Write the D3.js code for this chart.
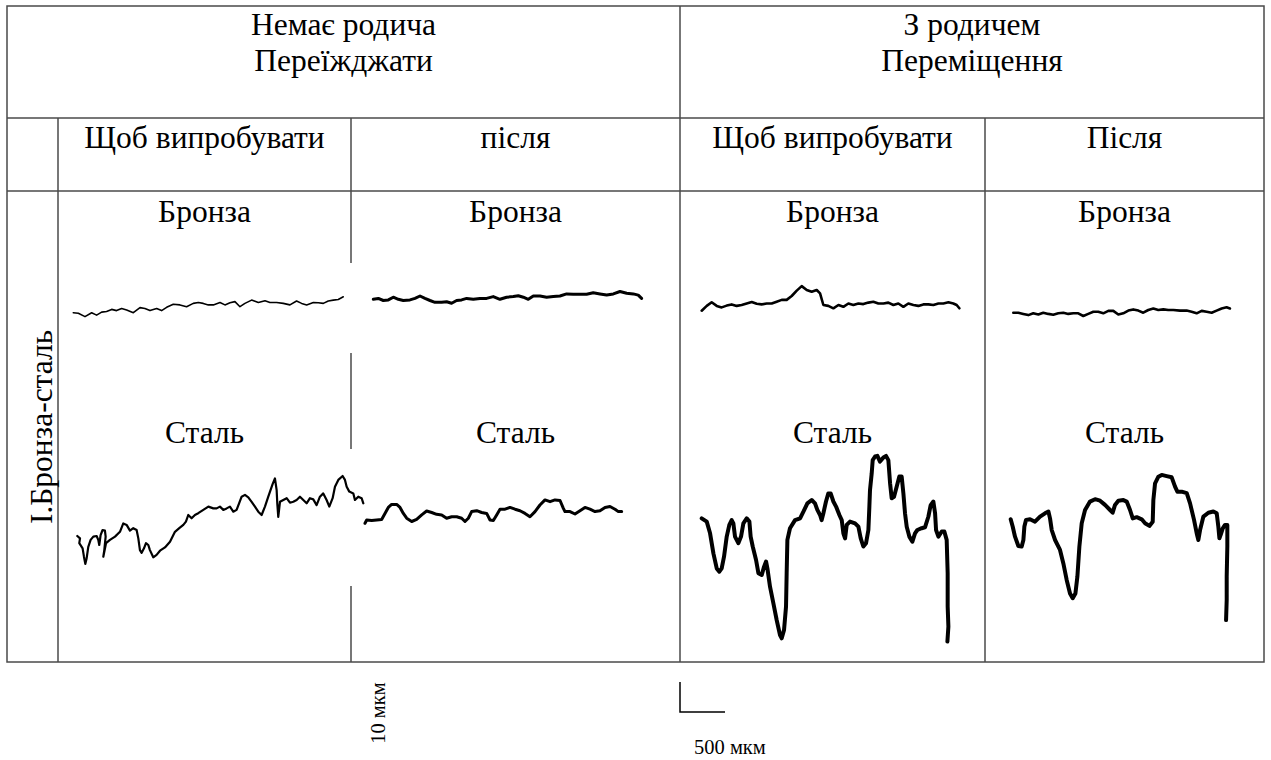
<!DOCTYPE html>
<html>
<head>
<meta charset="utf-8">
<script src="https://cdn.jsdelivr.net/npm/d3@7"></script>
<style>
  html, body { margin: 0; padding: 0; background: #fff; }
  svg { display: block; }
  text { font-family: "Liberation Serif", "DejaVu Serif", serif; fill: #000; }
</style>
</head>
<body>
<svg id="chart" width="1271" height="760"></svg>
<script>
// ---------- DATA (profilograms: [position along trace, µm ; height, µm]) ----------
const headerGroups = ["Немає родича\nПереїжджати", "З родичем\nПереміщення"];
const subHeaders = ["Щоб випробувати", "після", "Щоб випробувати", "Після"];
const rowLabel = "I.Бронза-сталь";
const materials = ["Бронза", "Сталь"];
const scaleLabels = ["10 мкм", "500 мкм"];
const scaleValues = [10, 500]; // µm vertical, µm horizontal

const bronzeNoParentBefore = [[0,0],[56,-0.2],[130,-1.3],[204,0],[259,-0.8],[315,0.2],[370,0.4],[426,1.1],[481,0.7],[537,1.4],[593,0.9],[667,0],[741,1.7],[796,1.4],[852,0.7],[926,1.4],[981,0.7],[1037,1.8],[1111,2.8],[1185,2.6],[1259,2.0],[1333,3.1],[1389,3.4],[1444,3.1],[1500,2.6],[1556,2.6],[1630,3.4],[1685,2.6],[1741,3.3],[1796,3.7],[1852,2.0],[1907,3.1],[1981,4.2],[2056,3.4],[2130,4.0],[2185,3.4],[2259,3.4],[2333,3.1],[2407,2.6],[2481,3.9],[2537,3.1],[2593,2.6],[2667,3.4],[2722,3.3],[2778,3.1],[2833,3.9],[2889,4.2],[2944,4.4],[3000,5.3]];
const bronzeNoParentAfter = [[0,0],[56,0.3],[111,-0.4],[167,-0.2],[222,0.7],[278,0],[333,-0.4],[407,-0.2],[463,0.3],[519,1.1],[574,0.3],[630,-0.4],[685,-1.0],[759,-1.0],[815,-0.8],[870,-1.3],[926,-0.4],[981,-0.2],[1037,0.3],[1111,0],[1185,0.3],[1259,0.3],[1333,0.9],[1407,0],[1481,0.7],[1556,0.9],[1611,1.2],[1667,0.7],[1722,0],[1778,1.1],[1852,1.1],[1926,0.7],[2000,0.9],[2074,1.1],[2148,1.8],[2222,1.7],[2296,1.7],[2370,1.7],[2444,2.2],[2519,1.8],[2593,1.4],[2667,1.8],[2741,2.6],[2815,2.0],[2889,1.8],[2944,1.4],[2981,0.3]];
const bronzeParentBefore = [[0,0],[56,1.6],[111,2.8],[167,1.6],[222,1.1],[278,1.7],[333,2.1],[389,1.6],[444,1.9],[500,2.4],[556,2.9],[611,2.3],[667,2.1],[722,2.4],[778,2.4],[833,3.0],[889,3.6],[944,3.6],[1000,4.9],[1056,6.7],[1111,8.2],[1167,6.9],[1222,6.3],[1278,6.9],[1315,5.8],[1352,1.9],[1407,1.6],[1463,0.8],[1519,1.9],[1574,1.3],[1630,2.4],[1685,1.9],[1741,2.4],[1796,2.2],[1852,2.7],[1907,3.0],[1963,2.4],[2019,2.4],[2074,2.7],[2130,1.9],[2185,2.4],[2241,1.3],[2296,2.4],[2352,1.9],[2407,1.6],[2463,2.1],[2519,2.1],[2574,1.9],[2630,2.4],[2685,2.4],[2741,2.8],[2796,2.4],[2833,1.9],[2863,0.8]];
const bronzeParentAfter = [[0,0],[56,0],[111,-0.4],[167,-0.8],[222,-0.2],[278,-0.6],[333,0],[389,-0.4],[444,-0.7],[500,-0.2],[556,0],[611,-0.4],[667,-0.2],[722,-0.2],[778,-1.1],[833,-0.4],[889,0.3],[944,0.3],[1000,-0.2],[1056,0.6],[1111,0.6],[1167,-0.6],[1222,-0.2],[1278,0.7],[1333,1.1],[1389,0.7],[1444,0],[1500,0.9],[1556,1.4],[1611,0.9],[1667,1.1],[1722,0.9],[1778,0.9],[1852,0.7],[1926,0.7],[1981,0.3],[2037,-0.2],[2093,0.6],[2148,0.3],[2204,0],[2259,0.7],[2315,1.4],[2370,1.8],[2407,1.4]];
const steelNoParentBefore = [[0,0],[30,-0.8],[22,-2.4],[59,-4.1],[74,-6.9],[89,-9.3],[104,-7.4],[122,-3.6],[148,-1.3],[178,-0.2],[215,0],[233,-1.3],[244,-3.0],[259,0.3],[281,2.0],[307,1.8],[315,-0.2],[300,-4.7],[289,-6.9],[319,-2.4],[363,-1.3],[419,-0.2],[474,1.4],[511,4.2],[548,3.7],[585,1.8],[622,2.6],[659,2.0],[678,-0.8],[696,-4.7],[715,-5.6],[741,-4.1],[763,-2.4],[789,-3.0],[807,-4.7],[844,-7.1],[881,-6.3],[919,-4.9],[974,-3.8],[1030,-1.9],[1085,1.4],[1133,2.6],[1178,3.7],[1207,4.8],[1233,7.0],[1270,5.9],[1307,7.0],[1344,7.6],[1400,8.7],[1456,9.8],[1511,9.2],[1548,9.2],[1585,9.8],[1622,8.7],[1659,9.2],[1696,9.8],[1733,8.1],[1770,8.7],[1826,13.1],[1863,13.7],[1900,12.9],[1937,11.4],[1974,9.8],[2011,8.1],[2048,7.0],[2085,9.8],[2122,13.1],[2170,17.3],[2196,19.2],[2215,15.3],[2222,10.9],[2233,6.4],[2252,11.4],[2289,12.0],[2326,12.6],[2363,11.1],[2400,11.4],[2437,12.0],[2474,13.1],[2511,12.0],[2548,10.9],[2585,12.6],[2622,12.2],[2659,10.3],[2696,13.1],[2733,14.2],[2770,12.0],[2800,9.8],[2837,12.6],[2863,16.4],[2900,18.7],[2948,20.0],[2974,18.7],[2993,16.4],[3022,14.8],[3067,14.2],[3085,12.0],[3122,13.1],[3159,12.6],[3178,10.9]];
const steelNoParentAfter = [[0,0],[19,1.1],[74,0.9],[130,1.1],[185,1.3],[222,3.3],[259,5.3],[296,6.3],[352,6.3],[389,5.3],[426,3.3],[463,1.7],[519,0.6],[574,1.3],[630,2.8],[685,4.1],[741,3.6],[796,3.0],[852,2.8],[907,1.7],[963,2.2],[1019,2.2],[1074,1.7],[1111,0.6],[1148,1.7],[1185,3.9],[1241,4.2],[1296,3.6],[1352,3.3],[1389,1.1],[1426,0.9],[1463,2.8],[1500,4.7],[1556,4.7],[1611,5.3],[1667,4.7],[1722,4.2],[1778,3.3],[1833,2.2],[1889,3.9],[1944,6.1],[2000,7.8],[2056,7.2],[2111,7.8],[2167,7.6],[2204,5.0],[2222,3.9],[2278,3.9],[2333,3.1],[2389,4.2],[2444,5.3],[2500,4.7],[2556,3.9],[2611,4.2],[2667,5.3],[2722,5.6],[2778,4.7],[2815,3.9],[2852,3.9]];
const steelParentBefore = [[0,0],[56,-1.1],[93,-5.0],[130,-11.7],[167,-16.7],[196,-17.8],[222,-16.7],[248,-12.8],[278,-6.1],[307,-2.2],[333,-0.6],[352,-1.7],[370,-6.1],[407,-8.3],[437,-6.1],[463,-1.7],[500,0],[530,-1.1],[544,-6.1],[567,-9.4],[604,-13.9],[630,-18.3],[667,-18.9],[693,-16.1],[715,-14.4],[730,-16.7],[759,-22.8],[796,-28.3],[833,-33.9],[870,-38.9],[889,-40.0],[915,-37.2],[937,-29.4],[944,-18.3],[952,-7.2],[981,-3.3],[1037,-0.6],[1093,0],[1130,2.2],[1174,5.0],[1222,6.1],[1259,5.0],[1285,2.8],[1315,1.1],[1333,-0.6],[1352,1.7],[1381,5.6],[1407,8.3],[1433,8.3],[1463,5.6],[1493,3.9],[1530,1.1],[1556,-0.6],[1574,-5.0],[1593,-6.7],[1611,-2.2],[1648,-1.1],[1704,-1.7],[1741,-2.8],[1767,-6.7],[1796,-9.4],[1826,-8.3],[1852,-3.9],[1863,3.9],[1870,9.4],[1889,15.0],[1900,19.4],[1926,20.6],[1952,20.8],[1981,18.9],[2019,20.3],[2048,20.8],[2074,19.4],[2093,11.7],[2111,6.7],[2137,7.2],[2167,10.6],[2196,13.9],[2222,13.9],[2241,8.3],[2259,1.7],[2278,-2.8],[2307,-6.1],[2341,-7.8],[2370,-5.0],[2396,-3.9],[2444,-3.3],[2481,-3.0],[2519,0.6],[2544,4.4],[2574,5.6],[2593,1.7],[2604,-3.9],[2630,-6.1],[2667,-4.4],[2696,-4.4],[2722,-7.2],[2733,-18.3],[2733,-29.4],[2741,-36.1],[2730,-41.1]];
const steelParentAfter = [[0,0],[22,-2.4],[48,-5.8],[85,-8.9],[122,-9.1],[141,-6.9],[152,-2.4],[170,-0.2],[215,0],[270,-0.8],[326,0.9],[381,2.0],[419,2.6],[437,0.3],[456,-3.6],[493,-6.9],[548,-10.2],[585,-14.7],[622,-20.2],[659,-24.7],[689,-26.3],[719,-24.7],[741,-19.1],[763,-9.1],[789,-1.3],[826,3.1],[881,5.9],[937,6.7],[993,6.2],[1048,4.8],[1104,3.1],[1133,2.2],[1159,4.8],[1196,6.2],[1252,6.4],[1289,5.9],[1326,3.1],[1356,0.3],[1400,0.7],[1456,0],[1493,-1.3],[1541,-2.2],[1578,-0.8],[1585,6.4],[1604,12.0],[1641,14.2],[1678,14.8],[1733,14.4],[1789,14.0],[1826,10.9],[1852,9.2],[1900,9.2],[1956,8.7],[1993,5.3],[2037,-0.2],[2067,-4.7],[2085,-6.9],[2104,-3.6],[2141,0.9],[2196,2.2],[2252,2.6],[2289,2.0],[2307,-2.4],[2319,-6.3],[2333,-5.2],[2356,-3.0],[2381,-1.9],[2407,-1.9],[2407,-9.1],[2400,-19.1],[2400,-26.9],[2393,-33.6]];

// ---------- LAYOUT ----------
const svg = d3.select("#chart");
const lineColor = "#4a4a4a";
const T = { left: 7, right: 1264, top: 6, bottom: 662, headBottom: 118, subBottom: 191 };
const colX = [58, 351, 680, 985];
const pxPerUmX = 45 / 500;   // 500 µm -> 45 px
const pxPerUmY = 30 / 10;    // 10 µm -> 30 px

const g = svg.append("g");
function hline(x1, x2, y) { g.append("line").attr("x1", x1).attr("x2", x2).attr("y1", y).attr("y2", y).attr("stroke", lineColor).attr("stroke-width", 1.5); }
function vline(x, y1, y2) { g.append("line").attr("x1", x).attr("x2", x).attr("y1", y1).attr("y2", y2).attr("stroke", lineColor).attr("stroke-width", 1.5); }

// outer frame
g.append("rect").attr("x", T.left).attr("y", T.top).attr("width", T.right - T.left).attr("height", T.bottom - T.top)
  .attr("fill", "none").attr("stroke", lineColor).attr("stroke-width", 1.5);
hline(T.left, T.right, T.headBottom);
hline(T.left, T.right, T.subBottom);
vline(colX[0], T.headBottom, T.bottom);
vline(colX[1], T.headBottom, 263);
vline(colX[1], 353, 449);
vline(colX[1], 586, T.bottom);
vline(colX[2], T.top, T.bottom);
vline(colX[3], T.headBottom, T.bottom);

const fs = 31.5;
// header groups
const groupCenters = [(T.left + colX[2]) / 2, (colX[2] + T.right) / 2];
headerGroups.forEach((txt, i) => {
  txt.split("\n").forEach((line, j) => {
    svg.append("text").attr("x", groupCenters[i]).attr("y", 35 + j * 36)
      .attr("text-anchor", "middle").attr("font-size", fs).text(line);
  });
});
// sub headers
const colBounds = [colX[0], colX[1], colX[2], colX[3], T.right];
const colCenters = d3.range(4).map(i => (colBounds[i] + colBounds[i + 1]) / 2);
subHeaders.forEach((txt, i) => {
  svg.append("text").attr("x", colCenters[i]).attr("y", 148).attr("text-anchor", "middle").attr("font-size", fs).text(txt);
});
// material labels
colCenters.forEach(cx => {
  svg.append("text").attr("x", cx).attr("y", 222).attr("text-anchor", "middle").attr("font-size", fs).text(materials[0]);
  svg.append("text").attr("x", cx).attr("y", 443).attr("text-anchor", "middle").attr("font-size", fs).text(materials[1]);
});
// row label
svg.append("text").attr("transform", "translate(52,427) rotate(-90)").attr("text-anchor", "middle").attr("font-size", fs).text(rowLabel);

// ---------- PROFILES ----------
const profiles = [
  { data: bronzeNoParentBefore, x0: 73.3, y0: 312.7, w: 1.6 },
  { data: bronzeNoParentAfter,  x0: 373.3, y0: 299.3, w: 3 },
  { data: bronzeParentBefore,   x0: 701.7, y0: 310.7, w: 2.6 },
  { data: bronzeParentAfter,    x0: 1013.3, y0: 312.7, w: 2.6 },
  { data: steelNoParentBefore,  x0: 77.3, y0: 536, w: 2.2 },
  { data: steelNoParentAfter,   x0: 365, y0: 523.3, w: 3 },
  { data: steelParentBefore,    x0: 701.7, y0: 518.3, w: 4 },
  { data: steelParentAfter,     x0: 1010.7, y0: 519.3, w: 4 }
];
profiles.forEach(p => {
  const x = d3.scaleLinear().domain([0, 500]).range([p.x0, p.x0 + 500 * pxPerUmX]);
  const y = d3.scaleLinear().domain([0, 10]).range([p.y0, p.y0 - 10 * pxPerUmY]);
  const line = d3.line().x(d => x(d[0])).y(d => y(d[1])).curve(d3.curveLinear);
  svg.append("path").datum(p.data).attr("d", line)
    .attr("fill", "none").attr("stroke", "#000").attr("stroke-width", p.w)
    .attr("stroke-linejoin", "round").attr("stroke-linecap", "round");
});

// ---------- SCALE BAR ----------
const sbX = d3.scaleLinear().domain([0, scaleValues[1]]).range([680, 680 + scaleValues[1] * pxPerUmX]);
const sbY = d3.scaleLinear().domain([0, scaleValues[0]]).range([712, 712 - scaleValues[0] * pxPerUmY]);
svg.append("path")
  .attr("d", `M${sbX(0)},${sbY(scaleValues[0])}L${sbX(0)},${sbY(0)}L${sbX(scaleValues[1])},${sbY(0)}`)
  .attr("fill", "none").attr("stroke", "#000").attr("stroke-width", 1.5);
svg.append("text").attr("transform", "translate(385,713) rotate(-90)").attr("text-anchor", "middle").attr("font-size", 20.5).text(scaleLabels[0]);
svg.append("text").attr("x", 694).attr("y", 754).attr("font-size", 20.5).text(scaleLabels[1]);
</script>
</body>
</html>
